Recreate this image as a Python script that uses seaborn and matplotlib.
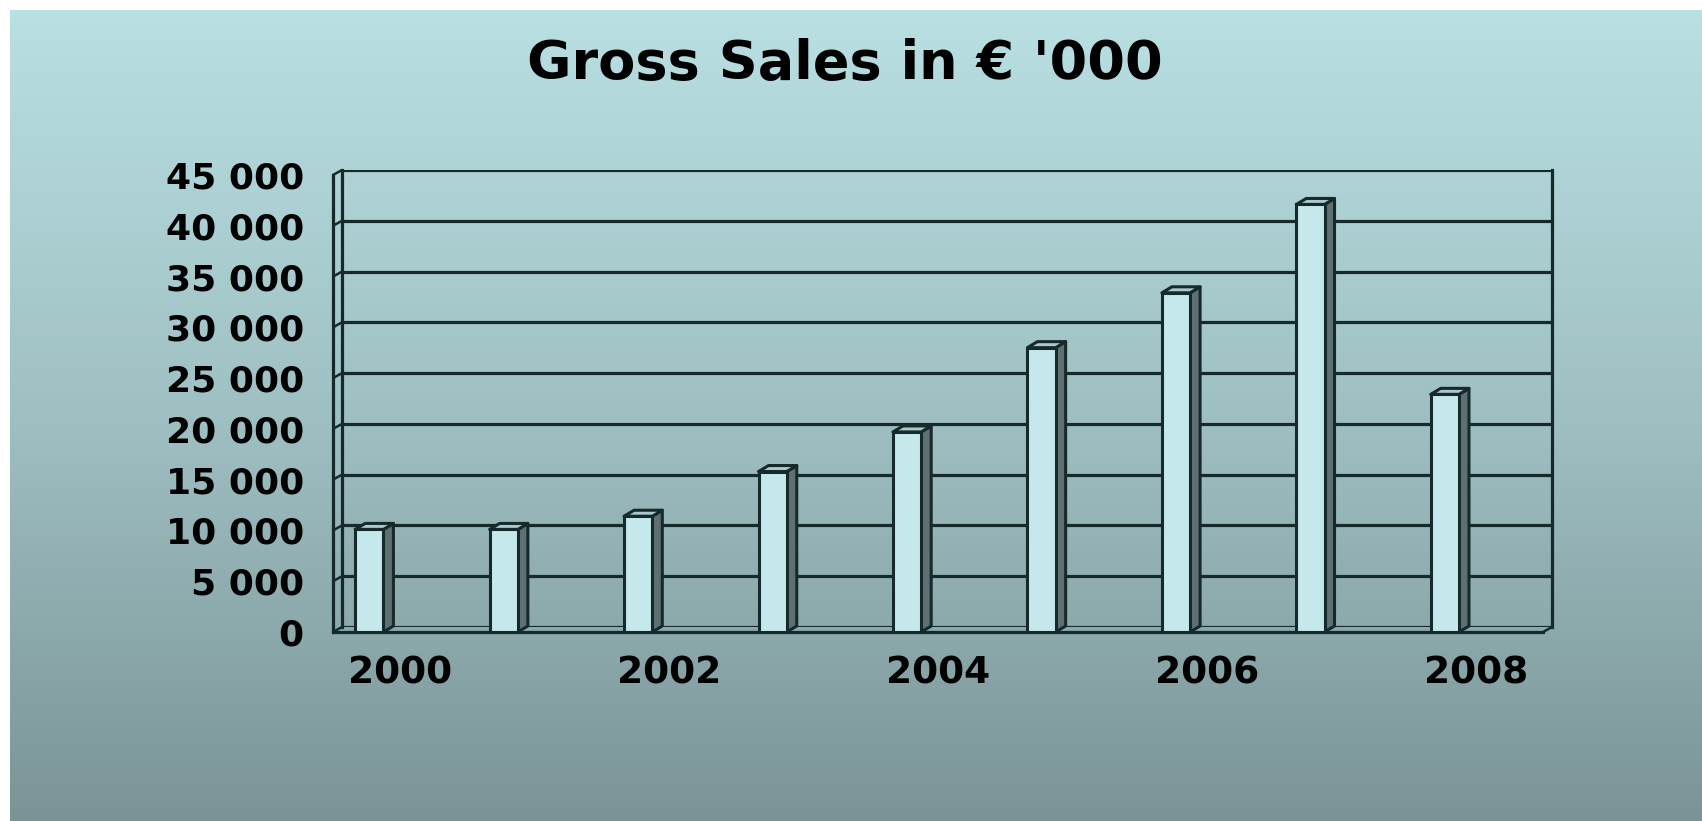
import numpy as np
import pandas as pd
import matplotlib
matplotlib.use("Agg")
import matplotlib.pyplot as plt
from matplotlib.patches import Polygon
from matplotlib.colors import LinearSegmentedColormap
import seaborn as sns

# ---- data -------------------------------------------------------------
years = ["2000", "2001", "2002", "2003", "2004", "2005", "2006", "2007", "2008"]
sales = [10100, 10100, 11400, 15800, 19700, 28000, 33400, 42100, 23400]
y_ticks = [0, 5000, 10000, 15000, 20000, 25000, 30000, 35000, 40000, 45000]
y_tick_labels = ["0", "5 000", "10 000", "15 000", "20 000", "25 000",
                 "30 000", "35 000", "40 000", "45 000"]
title = "Gross Sales in € '000"

# ---- style ------------------------------------------------------------
sns.set_theme(style="white")
plt.rcParams["font.family"] = ["DejaVu Sans"]
plt.rcParams["font.weight"] = "bold"

INK = "#162a2c"
FRONT = "#c4e8ec"
SIDE = "#5f7072"
TOP = "#a9c9cc"

W, H = 1702, 821
fig = plt.figure(figsize=(W / 100, H / 100), dpi=100, facecolor="white")


def px_rect(left, top, right, bottom):
    """Axes rectangle from pixel edges measured from the top-left corner."""
    return [left / W, 1 - bottom / H, (right - left) / W, (bottom - top) / H]


# background gradient panel (white margin on the left and top)
bg = fig.add_axes(px_rect(10, 10, W, H), zorder=0)
grad = np.linspace(0, 1, 256).reshape(-1, 1)
cmap = LinearSegmentedColormap.from_list("bg", ["#b9e0e3", "#9fc0c3", "#7b9496"])
bg.imshow(grad, aspect="auto", cmap=cmap, extent=[0, 1, 0, 1], origin="upper")
bg.set_axis_off()

# plot geometry (front plane) and depth offset of the back wall
FL, FT, FR, FB = 333, 175, 1543, 632
DX, DY = 9, 5
ymax = 45000
ncat = len(years)
xlim = (-0.5, ncat - 0.5)

# back wall with the horizontal grid
wall = fig.add_axes(px_rect(FL + DX, FT - DY, FR + DX, FB - DY), zorder=1)
wall.set_xlim(*xlim)
wall.set_ylim(0, ymax)
wall.patch.set_visible(False)
wall.set_yticks(y_ticks)
wall.set_xticks([])
wall.tick_params(left=False, labelleft=False)
wall.yaxis.grid(True, color=INK, linewidth=2.3)
for side in ("top", "bottom"):
    wall.spines[side].set_visible(False)
for side in ("left", "right"):
    wall.spines[side].set_color(INK)
    wall.spines[side].set_linewidth(2.3)

# front plane: axes, ticks, labels
ax = fig.add_axes(px_rect(FL, FT, FR, FB), zorder=2)
ax.set_xlim(*xlim)
ax.set_ylim(0, ymax)
ax.patch.set_visible(False)
for side in ("top", "right"):
    ax.spines[side].set_visible(False)
for side in ("left", "bottom"):
    ax.spines[side].set_color(INK)
    ax.spines[side].set_linewidth(2.3)

ax.set_yticks(y_ticks)
ax.set_yticklabels(y_tick_labels)
ax.tick_params(axis="y", direction="out", length=8, width=1.8, color=INK,
               pad=13, labelsize=26, labelcolor="black")

ax.set_xticks(range(ncat))
ax.set_xticklabels([y if i % 2 == 0 else "" for i, y in enumerate(years)])
ax.set_xticks(np.arange(ncat + 1) - 0.5, minor=True)
ax.tick_params(axis="x", which="major", length=0, pad=17, labelsize=27,
               labelcolor="black")
ax.tick_params(axis="x", which="minor", direction="out", length=6, width=1.8,
               color=INK)
for lbl in ax.get_xticklabels() + ax.get_yticklabels():
    lbl.set_fontweight("bold")

# left wall and floor edges joining front plane to back wall
dxd = DX / ((FR - FL) / ncat)
dyd = DY / (FB - FT) * ymax
for v in y_ticks:
    ax.plot([xlim[0], xlim[0] + dxd], [v, v + dyd], color=INK, lw=1.8,
            clip_on=False, solid_capstyle="butt")
ax.plot([xlim[1], xlim[1] + dxd], [0, dyd], color=INK, lw=1.8, clip_on=False)

# bars, drawn on an axes sharing the front plane's pixel box
axbar = fig.add_axes(px_rect(FL, FT, FR, FB), zorder=3)
shift = 0.23
df = pd.DataFrame({"year": years, "sales": sales})
sns.barplot(data=df, x="year", y="sales", ax=axbar, color=FRONT,
            width=0.21, edgecolor=INK, linewidth=2.2, saturation=1)
axbar.set_xlim(xlim[0] + shift, xlim[1] + shift)
axbar.set_ylim(0, ymax)
axbar.set_axis_off()

bdx = 10 / ((FR - FL) / ncat)
bdy = 6 / (FB - FT) * ymax
for p in list(axbar.patches):
    x0, w, h = p.get_x(), p.get_width(), p.get_height()
    side_face = Polygon([(x0 + w, 0), (x0 + w + bdx, bdy), (x0 + w + bdx, h + bdy),
                         (x0 + w, h)], closed=True, facecolor=SIDE,
                        edgecolor=INK, linewidth=2.2, zorder=p.get_zorder() - 0.1,
                        joinstyle="round")
    top_face = Polygon([(x0, h), (x0 + bdx, h + bdy), (x0 + w + bdx, h + bdy),
                        (x0 + w, h)], closed=True, facecolor=TOP,
                       edgecolor=INK, linewidth=2.2, zorder=p.get_zorder() - 0.1,
                       joinstyle="round")
    axbar.add_patch(side_face)
    axbar.add_patch(top_face)

fig.text(845 / W, 1 - 64 / H, title, ha="center", va="center",
         fontsize=39, fontweight="bold", color="black")

fig.savefig("out.png", dpi=100, facecolor=fig.get_facecolor())
